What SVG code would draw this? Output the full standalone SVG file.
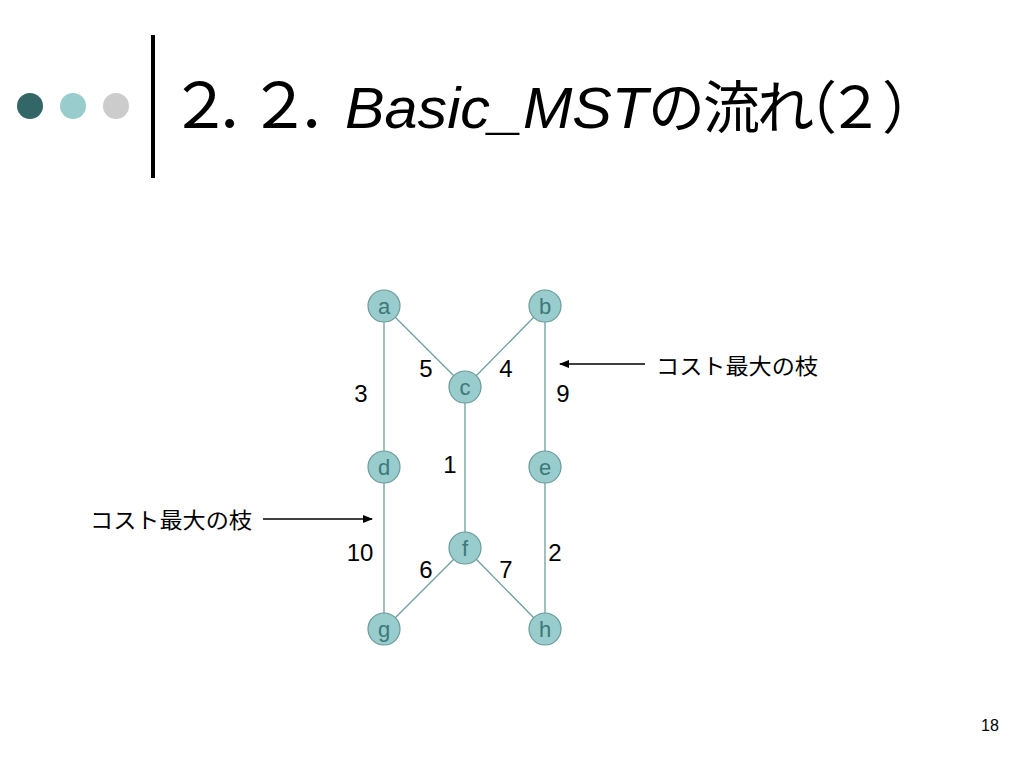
<svg xmlns="http://www.w3.org/2000/svg" width="1024" height="768" viewBox="0 0 1024 768">
<defs>
<style>
.edge{stroke:#6e9e9e;stroke-width:1.3;fill:none}
.node circle{fill:#99cccc;stroke:#6a9a9a;stroke-width:1.2}
.node text{font-family:"Liberation Sans",Arial,sans-serif;font-size:22px;fill:#3f7878;text-anchor:middle}
.num{font-family:"Liberation Sans",Arial,sans-serif;font-size:24px;fill:#000}
.jp{font-family:"Liberation Sans","Noto Sans CJK JP",sans-serif;font-size:22px;fill:#000}
.arrow{stroke:#000;stroke-width:1.3;fill:none}
</style>
<marker id="ah" markerWidth="10" markerHeight="8" refX="9" refY="4" orient="auto" markerUnits="userSpaceOnUse">
<path d="M0,0 L10,4 L0,8 z" fill="#000"/>
</marker>
</defs>
<rect width="1024" height="768" fill="#fff"/>
<g id="header">
<circle cx="30" cy="106" r="13" fill="#336666"/>
<circle cx="73" cy="106" r="13" fill="#99cccc"/>
<circle cx="116" cy="106" r="13" fill="#cccccc"/>
<rect x="151" y="35" width="4" height="143" fill="#000"/>
<text y="128" font-size="57" font-family="'Liberation Sans','Noto Sans CJK JP',sans-serif" fill="#000"><tspan x="169" font-size="63">２</tspan><tspan x="216">．</tspan><tspan x="248" font-size="63">２</tspan><tspan x="298">．</tspan><tspan x="345" font-style="italic" font-family="'Liberation Sans',Arial,sans-serif" textLength="303" lengthAdjust="spacingAndGlyphs">Basic_MST</tspan><tspan x="648">の</tspan><tspan x="703">流</tspan><tspan x="757">れ</tspan><tspan x="780">（</tspan><tspan x="827">２</tspan><tspan x="882">）</tspan></text>
</g>
<g id="connectors">
<line class="edge" x1="384" y1="322" x2="384" y2="451"/>
<line class="edge" x1="384" y1="483" x2="384" y2="613"/>
<line class="edge" x1="545" y1="322" x2="545" y2="451"/>
<line class="edge" x1="545" y1="483" x2="545" y2="613"/>
<line class="edge" x1="465" y1="403" x2="465" y2="532"/>
<line class="edge" x1="395" y1="317" x2="454" y2="376"/>
<line class="edge" x1="534" y1="317" x2="476" y2="376"/>
<line class="edge" x1="454" y1="559" x2="395" y2="618"/>
<line class="edge" x1="476" y1="559" x2="534" y2="618"/>
<line class="arrow" x1="645" y1="364" x2="560" y2="364" marker-end="url(#ah)"/>
<line class="arrow" x1="263" y1="519" x2="372" y2="519" marker-end="url(#ah)"/>
</g>
<g id="node-a" class="node"><circle cx="384" cy="306" r="16"/><text x="384" y="314">a</text></g>
<g id="node-b" class="node"><circle cx="545" cy="306" r="16"/><text x="545" y="314">b</text></g>
<g id="node-c" class="node"><circle cx="465" cy="387" r="16"/><text x="465" y="395">c</text></g>
<g id="node-d" class="node"><circle cx="384" cy="467" r="16"/><text x="384" y="475">d</text></g>
<g id="node-e" class="node"><circle cx="545" cy="467" r="16"/><text x="545" y="475">e</text></g>
<g id="node-f" class="node"><circle cx="465" cy="548" r="16"/><text x="465" y="556">f</text></g>
<g id="node-g" class="node"><circle cx="384" cy="629" r="16"/><text x="384" y="637">g</text></g>
<g id="node-h" class="node"><circle cx="545" cy="629" r="16"/><text x="545" y="637">h</text></g>
<g id="labels">
<text class="num" x="426" y="377" text-anchor="middle">5</text>
<text class="num" x="506" y="377" text-anchor="middle">4</text>
<text class="num" x="361" y="402" text-anchor="middle">3</text>
<text class="num" x="563" y="402" text-anchor="middle">9</text>
<text class="num" x="450" y="473" text-anchor="middle">1</text>
<text class="num" x="360" y="561" text-anchor="middle">10</text>
<text class="num" x="555" y="561" text-anchor="middle">2</text>
<text class="num" x="426" y="578" text-anchor="middle">6</text>
<text class="num" x="506" y="578" text-anchor="middle">7</text>
<text class="jp" x="656" y="374" textLength="162" lengthAdjust="spacingAndGlyphs">コスト最大の枝</text>
<text class="jp" x="90" y="528" textLength="162" lengthAdjust="spacingAndGlyphs">コスト最大の枝</text>
<text x="990" y="731" font-family="'Liberation Sans',Arial,sans-serif" font-size="16" text-anchor="middle" fill="#000">18</text>
</g>
</svg>
